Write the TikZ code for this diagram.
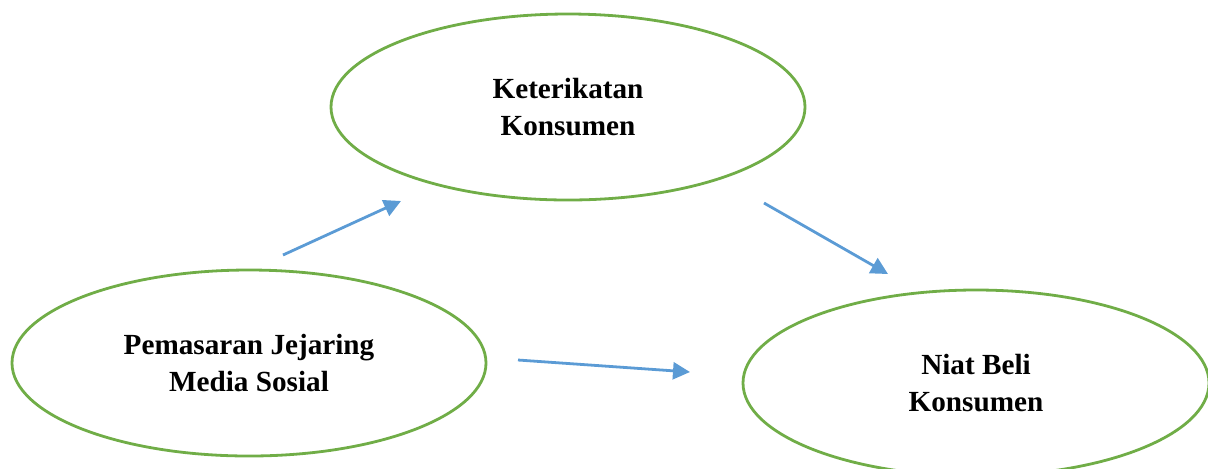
\documentclass[tikz,border=0pt]{standalone}
\usepackage{fontspec}
\setmainfont{Liberation Serif}
\usepackage{tikz}
\usetikzlibrary{shapes.geometric, arrows.meta}
\definecolor{ovalgreen}{RGB}{112, 173, 71}
\definecolor{arrowblue}{RGB}{91, 155, 213}

\begin{document}
\begin{tikzpicture}[x=0.5pt, y=-0.5pt,
    varbox/.style={draw=ovalgreen, ellipse, line width=1.4pt, align=center, inner sep=0pt,
        minimum width=237pt, minimum height=93pt, font=\fontsize{14.6}{18.5}\selectfont\bfseries, text=black},
    arrow/.style={-{Triangle[length=8.5pt, width=8.5pt]}, line width=1.4pt, arrowblue}
]
    \useasboundingbox (0,0) rectangle (1208,468);
    % Nodes
    \node (engage) [varbox] at (568,107) {Keterikatan\\Konsumen};
    \node (smm) [varbox] at (249,363) {Pemasaran Jejaring\\Media Sosial};
    \node (intent) [varbox, minimum width=233pt] at (976,383) {Niat Beli\\Konsumen};

    % Arrow ends
    \coordinate (a1s) at (283,255);
    \coordinate (a1e) at (401,201);
    \coordinate (a2s) at (764,203);
    \coordinate (a2e) at (888,274);
    \coordinate (a3s) at (518,360);
    \coordinate (a3e) at (690,372);

    % Arrows
    \draw [arrow] (a1s) -- (a1e);
    \draw [arrow] (a2s) -- (a2e);
    \draw [arrow] (a3s) -- (a3e);
\end{tikzpicture}
\end{document}
